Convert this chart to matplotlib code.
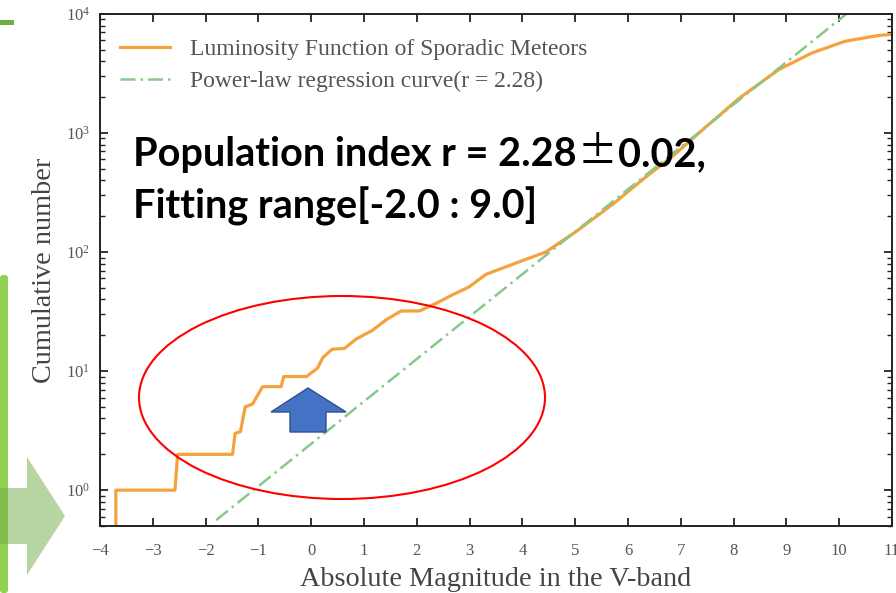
import matplotlib
matplotlib.use("Agg")
import matplotlib.pyplot as plt
from matplotlib.patches import Ellipse, Polygon, Rectangle, FancyBboxPatch
from matplotlib.ticker import LogLocator, NullLocator, NullFormatter

# cumulative luminosity function of sporadic meteors
mag = [-3.70, -3.70, -2.58, -2.53, -1.49, -1.44, -1.34, -1.25, -1.11, -0.92,
       -0.57, -0.52, -0.09, 0.12, 0.22, 0.40, 0.63, 0.85, 1.16, 1.42,
       1.70, 2.05, 2.36, 2.67, 2.99, 3.31, 3.88, 4.44, 5.01, 5.70,
       6.33, 6.83, 7.47, 8.10, 8.85, 9.48, 10.11, 10.74, 11.0]
cum_number = [0.5, 1, 1, 2, 2, 3.0, 3.1, 5.0, 5.3, 7.4,
              7.4, 9.0, 9.0, 10.6, 13, 15.3, 15.5, 18.6, 22, 27,
              32, 32, 37, 43.6, 51, 65, 81, 100, 148, 250,
              425, 630, 1120, 1950, 3400, 4700, 5900, 6600, 6750]

# power-law regression line (r = 2.28), end points
fit_mag = [-1.8, 10.5]
fit_number = [0.56, 13500]

x_ticks = list(range(-4, 12))

plt.rcParams["font.family"] = ["Liberation Serif", "DejaVu Serif"]
plt.rcParams["mathtext.fontset"] = "custom"
plt.rcParams["mathtext.rm"] = "Liberation Serif"

W, H = 896, 593
fig = plt.figure(figsize=(W / 100, H / 100), dpi=100)
ax = fig.add_axes([100 / W, 1 - 526 / H, 792 / W, 512 / H])

ax.plot(mag, cum_number, color="#F5A23C", lw=2.3,
        label="Luminosity Function of Sporadic Meteors")
ax.plot(fit_mag, fit_number, color="#86C98A", lw=1.8, ls=(0, (6, 2, 1, 2)),
        label="Power-law regression curve(r = 2.28)")

ax.set_yscale("log")
ax.set_xlim(-4, 11)
ax.set_ylim(0.5, 1e4)
ax.set_xticks(x_ticks)
ax.xaxis.set_minor_locator(NullLocator())
ax.yaxis.set_major_locator(LogLocator(base=10, numticks=10))
ax.yaxis.set_minor_locator(LogLocator(base=10, subs=range(2, 10), numticks=20))
ax.yaxis.set_minor_formatter(NullFormatter())

ax.tick_params(which="both", direction="in", top=True, right=True,
               colors="#222222", labelcolor="#555555")
ax.tick_params(which="major", length=6, width=1.3, labelsize=12)
ax.tick_params(axis="x", which="major", pad=12)
ax.tick_params(axis="y", which="major", pad=7)
ax.tick_params(which="minor", length=3.5, width=1.0)
for s in ax.spines.values():
    s.set_linewidth(1.4)
    s.set_color("#222222")

ax.set_xlabel("Absolute Magnitude in the V-band", fontsize=20.3,
              color="#444444", labelpad=6)
ax.set_ylabel("Cumulative number", fontsize=20.3, color="#444444", labelpad=6)

leg = ax.legend(loc="upper left", bbox_to_anchor=(-0.001, 0.994), frameon=False,
                fontsize=17, handlelength=2.1, handletextpad=0.85,
                labelspacing=0.45)
for t in leg.get_texts():
    t.set_color("#555555")

# slide annotations drawn in pixel space
over = fig.add_axes([0, 0, 1, 1], zorder=5)
over.set_xlim(0, W)
over.set_ylim(H, 0)
over.axis("off")

over.add_patch(Rectangle((0, 20), 14, 5, color="#70AD47", lw=0))
over.add_patch(FancyBboxPatch((0, 275), 8, H - 275, boxstyle="round,pad=0,rounding_size=3",
                              color="#92D050", lw=0))
over.add_patch(Polygon([(0, 488), (27, 488), (27, 457), (65, 516), (27, 575),
                        (27, 544), (0, 544)], closed=True,
                       facecolor="#70AD47", alpha=0.5, lw=0))

over.add_patch(Ellipse((342, 397.5), 406, 203, fill=False, edgecolor="#FF0000", lw=1.5))
over.add_patch(Polygon([(308, 388), (346, 412), (326, 412), (326, 432),
                        (290, 432), (290, 412), (271, 412)], closed=True,
                       facecolor="#4472C4", edgecolor="#2F528F", lw=1))

fs = 28.5
t1 = over.text(133, 166, "Population index r = 2.28", fontsize=fs, weight="bold",
               family="Lato", va="baseline", color="black")
over.text(133, 218, "Fitting range[-2.0 : 9.0]", fontsize=fs, weight="bold",
          family="Lato", va="baseline", color="black")

fig.canvas.draw()
inv = over.transData.inverted()
x_end = inv.transform((t1.get_window_extent().x1, 0))[0]
t2 = over.text(x_end + 1, 164, "±", fontsize=fs, family=["Noto Sans CJK JP", "DejaVu Sans"],
               va="baseline", color="black")
fig.canvas.draw()
x_end = inv.transform((t2.get_window_extent().x1, 0))[0]
over.text(x_end + 1, 166, "0.02,", fontsize=fs, weight="bold",
          family="Lato", va="baseline", color="black")

fig.savefig("out.png", dpi=100)
